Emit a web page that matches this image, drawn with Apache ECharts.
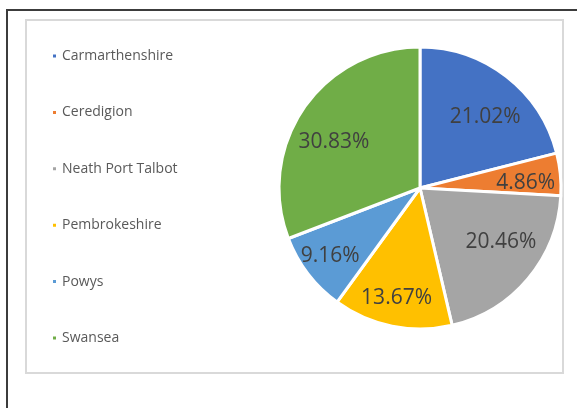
<!DOCTYPE html>
<html>
<head>
<meta charset="utf-8">
<style>
html,body{margin:0;padding:0;background:#fff;}
#chart{width:577px;height:408px;}
</style>
<script src="https://cdn.jsdelivr.net/npm/echarts@6/dist/echarts.min.js"></script>
</head>
<body>
<div id="chart"></div>
<script>
const categories = ['Carmarthenshire', 'Ceredigion', 'Neath Port Talbot', 'Pembrokeshire', 'Powys', 'Swansea'];
const shares = [21.02, 4.86, 20.46, 13.67, 9.16, 30.83];
const colors = ['#4472C4', '#ED7D31', '#A5A5A5', '#FFC000', '#5B9BD5', '#70AD47'];
// small per-label nudges (px) mimicking the spreadsheet's "best fit" label placement
const labelNudges = [[2, 10], [3, 5], [2, -12], [-3, 9], [-8, 5], [-1, 12]];

const data = categories.map((name, i) => ({ name, value: shares[i] }));
const labelData = categories.map((name, i) => ({ name, value: shares[i], label: { offset: labelNudges[i] } }));

const chart = echarts.init(document.getElementById('chart'), null, { renderer: 'canvas' });
const center = [420, 188];
const R = 141;

chart.setOption({
  animation: false,
  color: colors,
  graphic: [
    { type: 'rect', shape: { x: 7, y: 10, width: 620, height: 430 }, style: { fill: '#fff', stroke: '#3c3c3c', lineWidth: 2 }, z: -10 },
    { type: 'rect', shape: { x: 26, y: 20, width: 537, height: 353 }, style: { fill: '#fff', stroke: '#d9d9d9', lineWidth: 2 }, z: -9 }
  ],
  legend: {
    orient: 'vertical',
    left: 51,
    top: 48,
    padding: 0,
    itemWidth: 5,
    itemHeight: 5,
    itemGap: 40.4,
    icon: 'rect',
    data: categories,
    textStyle: { fontFamily: 'Open Sans', fontSize: 14, color: '#595959', lineHeight: 16 }
  },
  series: [
    {
      type: 'pie',
      center: center,
      radius: [0, R],
      startAngle: 90,
      clockwise: true,
      data: data,
      itemStyle: { borderColor: '#fff', borderWidth: 3 },
      label: { show: false },
      labelLine: { show: false },
      emphasis: { disabled: true }
    },
    {
      type: 'pie',
      center: center,
      radius: [0, R * 1.42],
      startAngle: 90,
      clockwise: true,
      silent: true,
      legendHoverLink: false,
      data: labelData,
      itemStyle: { color: 'rgba(0,0,0,0)', borderWidth: 0 },
      label: {
        show: true,
        position: 'inside',
        formatter: p => p.value.toFixed(2) + '%',
        fontFamily: 'Open Sans',
        fontSize: 21,
        color: '#404040'
      },
      labelLine: { show: false },
      emphasis: { disabled: true }
    }
  ]
});
</script>
</body>
</html>
